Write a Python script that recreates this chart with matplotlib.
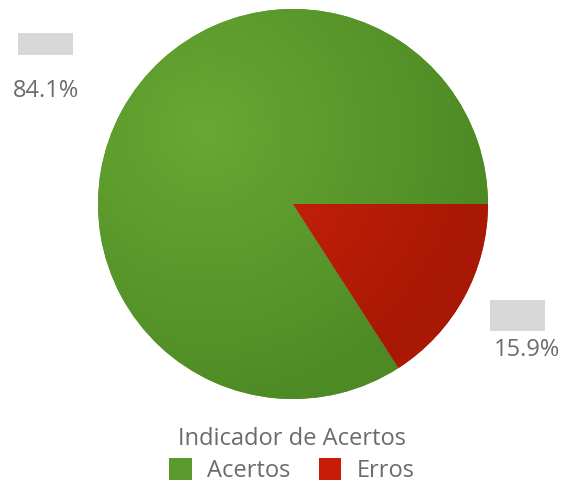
import numpy as np
import matplotlib
matplotlib.use("Agg")
import matplotlib.pyplot as plt
from matplotlib.colors import LinearSegmentedColormap
from matplotlib.patches import Rectangle

categories = ["Acertos", "Erros"]
shares = [84.1, 15.9]
pct_labels = ["84.1%", "15.9%"]
legend_title = "Indicador de Acertos"
inner_colors = ["#68a834", "#d0240a"]
outer_colors = ["#4e8a24", "#a81805"]
flat_colors = ["#5a9a2c", "#c81c08"]

plt.rcParams["font.family"] = ["Open Sans", "DejaVu Sans"]
text_color = "#6b6b6b"
fs = 17

W, H, DPI = 570, 483, 100
fig = plt.figure(figsize=(W / DPI, H / DPI), dpi=DPI)
cx, cy, r = 293, 204, 195
ax = fig.add_axes([(cx - r) / W, (H - cy - r) / H, 2 * r / W, 2 * r / H])

wedges, _ = ax.pie(shares, colors=flat_colors, startangle=0, counterclock=True,
                   radius=1, center=(0, 0), frame=True)

# radial shading
n = 400
xs = np.linspace(-1, 1, n)
X, Y = np.meshgrid(xs, xs)
hx, hy = -0.45, 0.38
D = np.sqrt((X - hx) ** 2 + (Y - hy) ** 2)
D = np.clip(D / 1.45, 0, 1)
for w, c_in, c_out in zip(wedges, inner_colors, outer_colors):
    cmap = LinearSegmentedColormap.from_list("g", [c_in, c_out])
    im = ax.imshow(D, extent=(-1, 1, -1, 1), origin="lower", cmap=cmap,
                   vmin=0, vmax=1, interpolation="bilinear", zorder=w.get_zorder() + 0.1)
    im.set_clip_path(w)
ax.set_xlim(-1, 1)
ax.set_ylim(-1, 1)
ax.axis("off")

def px(x, y):
    return x / W, 1 - y / H

# redacted value boxes
for (bx, by, bw, bh) in [(18, 33, 55, 22), (490, 300, 55, 31)]:
    fig.patches.append(Rectangle((bx / W, 1 - (by + bh) / H), bw / W, bh / H,
                                 transform=fig.transFigure, facecolor="#d8d8d8",
                                 edgecolor="none", zorder=5))

fig.text(*px(46, 91), pct_labels[0], ha="center", va="center", fontsize=fs, color=text_color)
fig.text(*px(527, 350), pct_labels[1], ha="center", va="center", fontsize=fs, color=text_color)

# legend
handles = [Rectangle((0, 0), 1, 1, facecolor=c, edgecolor="none") for c in flat_colors]
leg = fig.legend(handles, categories, title=legend_title, loc="center",
                 bbox_to_anchor=(292 / W, 1 - 455 / H), ncol=2, frameon=False,
                 fontsize=fs, title_fontsize=fs, handlelength=0.95, handleheight=1.05,
                 handletextpad=0.65, columnspacing=1.2, labelcolor=text_color,
                 borderpad=0.2, labelspacing=0.3)
leg.get_title().set_color(text_color)

fig.savefig("out.png", dpi=DPI)
